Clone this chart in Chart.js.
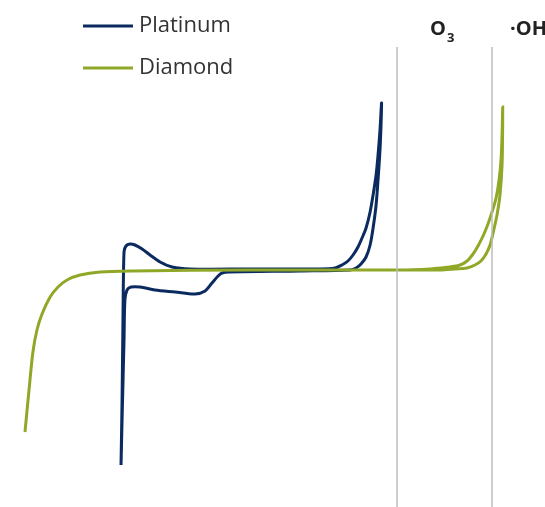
<!DOCTYPE html>
<html>
<head>
<meta charset="utf-8">
<script src="https://cdn.jsdelivr.net/npm/chart.js@4"></script>
<style>
  html, body { margin: 0; padding: 0; background: #fff; }
  #wrap { width: 545px; height: 507px; }
</style>
</head>
<body>
<div id="wrap"><canvas id="cv" width="545" height="507"></canvas></div>
<script>
'use strict';

// potential (V) and current (arbitrary units)
const ptVolts = [-0.051, -0.043, -0.036, -0.028, -0.013, 0.018, 0.056, 0.111, 0.172, 0.249, 0.341, 0.479, 0.940, 1.478, 1.594, 1.647, 1.693, 1.732, 1.770, 1.801, 1.832, 1.863, 1.886, 1.909, 1.924, 1.939, 1.951,
  1.947, 1.939, 1.924, 1.909, 1.886, 1.863, 1.832, 1.793, 1.755, 1.709, 1.325, 0.780, 0.725, 0.695, 0.648, 0.595, 0.518, 0.364, 0.210, 0.095, 0.026, -0.005, -0.021, -0.028, -0.043, -0.051];
const ptCurrent = [-19.5, -13.0, -5.0, 1.8, 2.4, 2.6, 2.5, 2.1, 1.5, 0.8, 0.3, 0.1, 0.1, 0.1, 0.2, 0.5, 0.9, 1.5, 2.3, 3.2, 4.2, 5.8, 7.5, 9.5, 11.5, 14.0, 16.7,
  14.5, 12.0, 9.0, 6.5, 4.2, 2.5, 1.3, 0.6, 0.2, 0.0, -0.1, -0.2, -0.3, -0.6, -1.3, -2.1, -2.4, -2.2, -2.0, -1.7, -1.7, -2.0, -3.0, -7.0, -15.0, -19.5];

const dmVolts = [-0.789, -0.758, -0.728, -0.697, -0.658, -0.596, -0.535, -0.466, -0.366, -0.212, 0.041, 0.940, 2.093, 2.324, 2.400, 2.477, 2.554, 2.608, 2.654, 2.692, 2.731, 2.769, 2.800, 2.831, 2.854, 2.869, 2.877, 2.882,
  2.881, 2.877, 2.861, 2.838, 2.808, 2.785, 2.754, 2.715, 2.669, 2.608, 2.516, 2.400, 1.939];
const dmCurrent = [-16.2, -12.0, -8.2, -6.0, -4.4, -2.7, -1.7, -1.0, -0.5, -0.2, -0.1, 0.0, 0.0, 0.1, 0.2, 0.3, 0.5, 0.9, 1.6, 2.4, 3.4, 4.6, 5.8, 7.2, 9.0, 11.0, 13.5, 16.3,
  13.5, 10.5, 7.5, 5.5, 3.7, 2.5, 1.6, 0.9, 0.5, 0.2, 0.1, 0.0, 0.0];

const markerVolts = [2.07, 2.80];
const markerLabels = [['O', '3'], ['·OH', '']];
const seriesNames = ['Platinum', 'Diamond'];
const seriesColors = ['#0b2a5f', '#8fa827'];

const markerTop = 22.3;
const markerBottom = -23.7;

function pairs(xs, ys) {
  return xs.map((x, i) => ({ x: x, y: ys[i] }));
}

const datasets = markerVolts.map(v => ({
  data: [{ x: v, y: markerTop }, { x: v, y: markerBottom }],
  borderColor: '#bdbdbd',
  borderWidth: 1.5,
  pointRadius: 0,
  tension: 0
}));
datasets.push({
  label: seriesNames[1],
  data: pairs(dmVolts, dmCurrent),
  borderColor: seriesColors[1],
  borderWidth: 3,
  pointRadius: 0,
  tension: 0.3
});
datasets.push({
  label: seriesNames[0],
  data: pairs(ptVolts, ptCurrent),
  borderColor: seriesColors[0],
  borderWidth: 3,
  pointRadius: 0,
  tension: 0.3
});

// legend and marker labels
const labelsPlugin = {
  id: 'labels',
  afterDraw(chart) {
    const ctx = chart.ctx;
    const xs = chart.scales.x;
    ctx.save();
    ctx.lineWidth = 3;
    ctx.textBaseline = 'middle';
    ctx.font = '22px "Open Sans", sans-serif';
    seriesNames.forEach((name, i) => {
      const y = 26 + i * 42;
      ctx.strokeStyle = seriesColors[i];
      ctx.beginPath();
      ctx.moveTo(83, y);
      ctx.lineTo(133, y);
      ctx.stroke();
      ctx.fillStyle = '#333';
      ctx.fillText(name, 139, y);
    });
    ctx.fillStyle = '#222';
    markerLabels.forEach((lab, i) => {
      const x = xs.getPixelForValue(markerVolts[i]);
      ctx.font = 'bold 20px "Open Sans", sans-serif';
      const x0 = i === 0 ? x + 33 : x + 18;
      ctx.fillText(lab[0], x0, 29);
      if (lab[1]) {
        const w = ctx.measureText(lab[0]).width;
        ctx.font = 'bold 13px "Open Sans", sans-serif';
        ctx.fillText(lab[1], x0 + w + 1, 38);
      }
    });
    ctx.restore();
  }
};

new Chart(document.getElementById('cv'), {
  type: 'line',
  data: { datasets: datasets },
  options: {
    responsive: false,
    animation: false,
    devicePixelRatio: 1,
    layout: { padding: 0 },
    plugins: { legend: { display: false }, tooltip: { enabled: false } },
    scales: {
      x: { type: 'linear', min: -0.981, max: 3.207, display: false },
      y: { type: 'linear', min: -23.7, max: 27, display: false }
    }
  },
  plugins: [labelsPlugin]
});
</script>
</body>
</html>
